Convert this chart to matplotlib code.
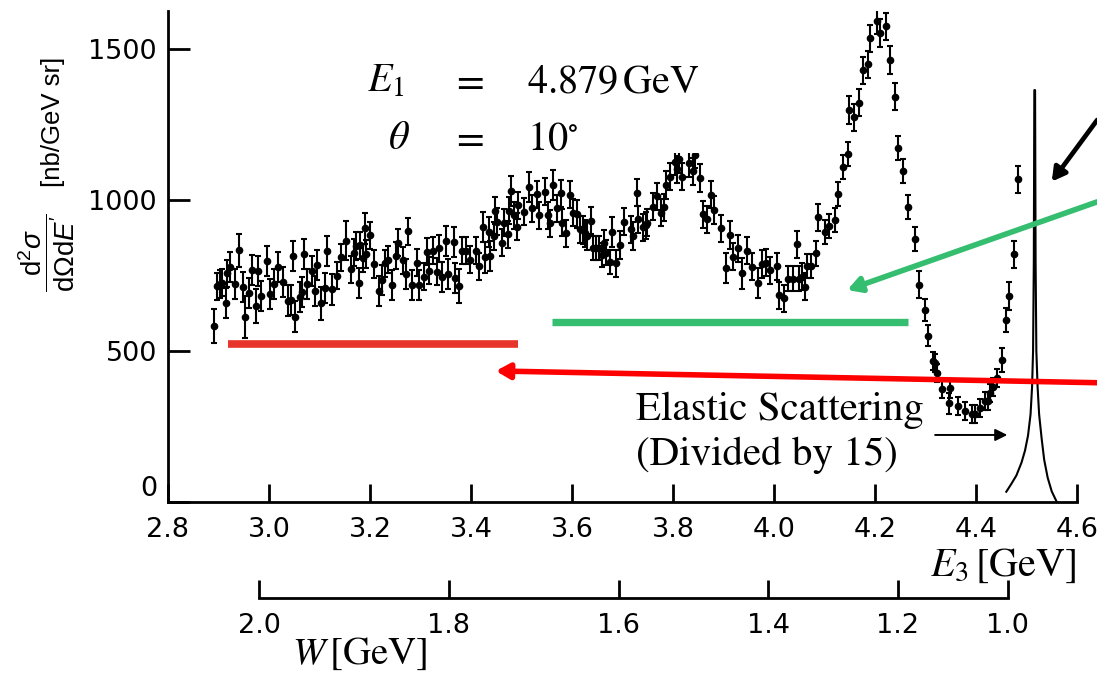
import numpy as np
import matplotlib
matplotlib.use("Agg")
from matplotlib import pyplot as plt
from matplotlib.patches import Rectangle

plt.rcParams['mathtext.fontset'] = 'custom'
plt.rcParams['mathtext.rm'] = 'Liberation Sans'
plt.rcParams['mathtext.it'] = 'Liberation Sans:italic'
plt.rcParams['mathtext.sf'] = 'Liberation Sans'

# kinematics of the run
E1 = 4.879      # beam energy [GeV]
THETA = 10.0    # scattering angle [deg]
M_P = 0.938272  # proton mass [GeV]

# inclusive spectrum: scattered energy E3 [GeV], d2sigma/dOmega dE' [nb/GeV sr], error
e3 = [
    2.891, 2.898, 2.902, 2.906, 2.915, 2.917, 2.923, 2.933, 2.941, 2.948,
    2.952, 2.961, 2.966, 2.974, 2.979, 2.985, 2.997, 3.001, 3.010, 3.018,
    3.028, 3.037, 3.043, 3.047, 3.051, 3.061, 3.065, 3.069, 3.076, 3.085,
    3.091, 3.096, 3.102, 3.111, 3.114, 3.125, 3.135, 3.142, 3.152, 3.162,
    3.168, 3.172, 3.178, 3.180, 3.186, 3.191, 3.193, 3.200, 3.208, 3.217,
    3.223, 3.230, 3.236, 3.243, 3.251, 3.256, 3.266, 3.271, 3.275, 3.284,
    3.294, 3.297, 3.306, 3.313, 3.317, 3.324, 3.332, 3.337, 3.342, 3.350,
    3.355, 3.366, 3.368, 3.376, 3.382, 3.390, 3.398, 3.410, 3.416, 3.424,
    3.428, 3.436, 3.438, 3.446, 3.448, 3.452, 3.461, 3.465, 3.473, 3.475,
    3.479, 3.485, 3.492, 3.494, 3.505, 3.514, 3.520, 3.531, 3.535, 3.546,
    3.553, 3.556, 3.563, 3.570, 3.578, 3.580, 3.588, 3.597, 3.601, 3.609,
    3.615, 3.621, 3.626, 3.629, 3.637, 3.642, 3.648, 3.654, 3.659, 3.663,
    3.667, 3.675, 3.679, 3.688, 3.695, 3.703, 3.717, 3.720, 3.728, 3.731,
    3.741, 3.747, 3.749, 3.761, 3.769, 3.777, 3.782, 3.786, 3.795, 3.804,
    3.808, 3.812, 3.817, 3.831, 3.839, 3.844, 3.853, 3.860, 3.868, 3.875,
    3.881, 3.896, 3.904, 3.913, 3.919, 3.929, 3.936, 3.946, 3.956, 3.968,
    3.976, 3.984, 3.993, 4.005, 4.010, 4.020, 4.028, 4.037, 4.045, 4.049,
    4.055, 4.061, 4.065, 4.074, 4.084, 4.088, 4.101, 4.108, 4.121, 4.127,
    4.137, 4.146, 4.149, 4.158, 4.168, 4.176, 4.186, 4.190, 4.203, 4.210,
    4.222, 4.230, 4.240, 4.246, 4.256, 4.266, 4.279, 4.288, 4.299, 4.304,
    4.314, 4.319, 4.322, 4.332, 4.347, 4.349, 4.365, 4.378, 4.392, 4.398,
    4.408, 4.418, 4.423, 4.428, 4.433, 4.441, 4.452, 4.459, 4.466, 4.476,
    4.484,
]
xsec = [
    583, 715, 722, 726, 658, 757, 777, 721, 834, 713,
    612, 691, 768, 649, 766, 682, 799, 689, 722, 779,
    729, 667, 669, 815, 614, 680, 696, 820, 721, 766,
    700, 785, 658, 708, 831, 704, 749, 810, 865, 770,
    826, 848, 726, 850, 808, 906, 821, 883, 788, 698,
    735, 790, 803, 719, 815, 859, 801, 755, 897, 719,
    792, 719, 746, 829, 766, 832, 762, 840, 746, 865,
    755, 860, 741, 715, 832, 832, 803, 832, 781, 910,
    810, 895, 815, 881, 965, 928, 859, 925, 887, 965,
    1031, 950, 912, 983, 961, 1044, 972, 1019, 950, 1028,
    950, 923, 1050, 972, 1022, 925, 890, 1017, 958, 954,
    903, 901, 890, 881, 931, 840, 840, 840, 818, 857,
    826, 796, 895, 790, 851, 928, 903, 881, 1024, 936,
    910, 917, 925, 978, 1013, 958, 976, 1050, 1077, 1127,
    1102, 1135, 1077, 1122, 1095, 1150, 1073, 953, 936, 1017,
    967, 906, 774, 884, 812, 840, 757, 832, 779, 724,
    788, 792, 768, 781, 685, 674, 740, 740, 853, 740,
    746, 713, 781, 781, 823, 943, 895, 914, 934, 1020,
    1108, 1152, 1298, 1274, 1322, 1430, 1450, 1535, 1594, 1553,
    1576, 1464, 1342, 1171, 1097, 978, 870, 719, 636, 550,
    468, 459, 426, 374, 327, 376, 318, 302, 291, 291,
    310, 335, 335, 360, 382, 410, 470, 603, 682, 820,
    1069,
]
xsec_err = [
    57, 45, 45, 45, 50, 45, 50, 50, 55, 50,
    70, 50, 50, 55, 50, 50, 50, 50, 50, 50,
    50, 50, 50, 50, 50, 50, 50, 50, 50, 50,
    50, 50, 55, 50, 50, 50, 45, 45, 65, 45,
    45, 45, 50, 45, 45, 50, 45, 45, 45, 50,
    50, 45, 45, 50, 45, 45, 45, 50, 45, 50,
    45, 50, 45, 45, 45, 45, 45, 45, 50, 50,
    50, 50, 50, 55, 45, 45, 45, 45, 45, 50,
    50, 50, 50, 45, 45, 45, 45, 45, 45, 45,
    50, 45, 45, 45, 45, 50, 45, 45, 45, 45,
    45, 45, 50, 45, 45, 45, 45, 45, 45, 45,
    45, 45, 45, 45, 45, 40, 40, 40, 40, 45,
    40, 40, 50, 45, 45, 45, 45, 45, 45, 45,
    45, 45, 45, 45, 45, 45, 45, 45, 45, 45,
    45, 45, 45, 45, 45, 45, 45, 45, 45, 45,
    45, 45, 50, 45, 45, 45, 50, 45, 45, 50,
    45, 45, 45, 45, 45, 45, 40, 40, 45, 40,
    45, 45, 40, 40, 40, 45, 40, 40, 40, 40,
    40, 40, 45, 45, 45, 45, 45, 45, 45, 45,
    45, 45, 45, 40, 40, 40, 40, 45, 35, 35,
    30, 30, 30, 30, 35, 30, 30, 30, 30, 30,
    30, 30, 30, 30, 30, 30, 40, 40, 45, 45,
    45,
]

# elastic peak, scaled down by 15
elastic_e3 = [4.460, 4.470, 4.480, 4.490, 4.497, 4.503, 4.508, 4.511,
              4.513, 4.5145, 4.5155, 4.517, 4.518, 4.5195, 4.522, 4.525,
              4.530, 4.535, 4.542, 4.550, 4.560]
elastic_xsec = [34, 60, 88, 130, 170, 220, 290, 380,
                500, 800, 1364, 1364, 800, 500, 380, 290,
                210, 140, 80, 35, 0]

e3_ticks = [2.8, 3.0, 3.2, 3.4, 3.6, 3.8, 4.0, 4.2, 4.4, 4.6]
y_ticks = [0, 500, 1000, 1500]
w_ticks = [2.0, 1.8, 1.6, 1.4, 1.2, 1.0]


def w_to_e3(w):
    # invariant mass of the hadronic final state -> scattered electron energy
    s2 = np.sin(np.radians(THETA) / 2.0) ** 2
    w = np.asarray(w)
    return (M_P**2 + 2.0 * M_P * E1 - w**2) / (2.0 * M_P + 4.0 * E1 * s2)


W, H = 1097, 675
fig = plt.figure(figsize=(W / 100, H / 100), dpi=100)
ax = fig.add_axes([168 / W, 173 / H, 909 / W, 491 / H])
ax.set_xlim(2.8, 4.6)
ax.set_ylim(0, 1626)
for side in ('top', 'right'):
    ax.spines[side].set_visible(False)
for side in ('left', 'bottom'):
    ax.spines[side].set_linewidth(2.0)

ax.set_xticks(e3_ticks)
ax.set_xticklabels(['%.1f' % t for t in e3_ticks])
ax.set_yticks(y_ticks)
ax.tick_params(axis='x', direction='in', length=13, width=2, labelsize=19.5, pad=11)
ax.tick_params(axis='y', direction='in', length=16, width=2, labelsize=19.5, pad=8)
# lift the "0" so it clears the 2.8 below it
ax.yaxis.get_major_ticks()[0].label1.set_verticalalignment('bottom')

# data points
ax.errorbar(e3, xsec, yerr=xsec_err, fmt='o', ms=4.5, color='black',
            ecolor='black', elinewidth=1.5, capsize=2.2, capthick=1.5, zorder=2)

# elastic line
ax.plot(elastic_e3, elastic_xsec, color='black', lw=1.5, zorder=2, clip_on=False)

# kinematics block sits on a white card
ax.add_patch(Rectangle((3.17, 1156), 0.693, 470, facecolor='white',
                       edgecolor='none', zorder=3))
kin = dict(fontsize=29, va='center', zorder=4, math_fontfamily='stix')
ax.text(3.269, 1394, r'$E_1$', ha='right', **kin)
ax.text(3.394, 1394, r'$=$', ha='center', **kin)
ax.text(3.511, 1394, r'$4.879\,\mathrm{GeV}$', ha='left', **kin)
ax.text(3.279, 1205, r'$\theta$', ha='right', **kin)
ax.text(3.394, 1205, r'$=$', ha='center', **kin)
ax.text(3.511, 1205, r'$10^{\circ}$', ha='left', **kin)

ax.text(3.727, 305, 'Elastic Scattering', fontsize=29.5, family='STIXGeneral',
        va='center', ha='left', zorder=4)
ax.text(3.727, 156, '(Divided by 15)', fontsize=29.5, family='STIXGeneral',
        va='center', ha='left', zorder=4)
ax.annotate('', xy=(4.462, 222), xytext=(4.319, 222),
            arrowprops=dict(arrowstyle='-|>', color='black', lw=1.4,
                            mutation_scale=18, shrinkA=0, shrinkB=0))

# highlighted regions
ax.plot([2.918, 3.493], [523, 523], color='#e8352b', lw=5.5,
        solid_capstyle='butt', zorder=3)
ax.plot([3.560, 4.266], [596, 596], color='#35be6f', lw=5.3,
        solid_capstyle='butt', zorder=3)

# pointers
ax.annotate('', xy=(4.550, 1061), xytext=(4.640, 1265), annotation_clip=False,
            arrowprops=dict(arrowstyle='-|>,head_length=0.8,head_width=0.45',
                            color='black', lw=3.4, shrinkA=0, shrinkB=0))
ax.annotate('', xy=(4.145, 702), xytext=(4.640, 994), annotation_clip=False,
            arrowprops=dict(arrowstyle='-|>,head_length=0.8,head_width=0.45',
                            color='#35be6f', lw=4.0, shrinkA=0, shrinkB=0))
ax.annotate('', xy=(3.449, 434), xytext=(4.640, 395), annotation_clip=False,
            arrowprops=dict(arrowstyle='-|>,head_length=0.8,head_width=0.45',
                            color='#ff0000', lw=4.0, shrinkA=0, shrinkB=0))

# axis labels
ax.set_xlabel(r'$E_3\,[\mathrm{GeV}]$', loc='right', fontsize=29,
              math_fontfamily='stix', va='center')
ax.xaxis.set_label_coords(1.0, -0.128)
fig.text(47 / W, 1 - 253 / H,
         r'$\dfrac{\mathrm{d}^2\sigma}{\mathrm{d}\Omega\mathrm{d}E^{\prime}}$',
         rotation=90, fontsize=20, ha='center', va='center')
fig.text(53 / W, 1 - 122 / H, '[nb/GeV sr]', rotation=90, fontsize=18.5,
         family='Liberation Sans', ha='center', va='center')

# W scale underneath
ax_w = fig.add_axes([168 / W, 77 / H, 909 / W, 23 / H])
ax_w.set_xlim(2.8, 4.6)
ax_w.patch.set_visible(False)
for side in ('top', 'right', 'left'):
    ax_w.spines[side].set_visible(False)
ax_w.spines['bottom'].set_linewidth(2.0)
ax_w.spines['bottom'].set_bounds(float(w_to_e3(2.0)), float(w_to_e3(1.0)))
ax_w.set_yticks([])
ax_w.set_xticks(w_to_e3(w_ticks))
ax_w.set_xticklabels(['%.1f' % w for w in w_ticks])
ax_w.tick_params(axis='x', direction='in', length=13, width=2, labelsize=19.5, pad=11)
fig.text(360 / W, 1 - 653 / H, r'$W\,[\mathrm{GeV}]$', fontsize=28,
         math_fontfamily='stix', ha='center', va='center')

fig.savefig('out.png', dpi=100)
